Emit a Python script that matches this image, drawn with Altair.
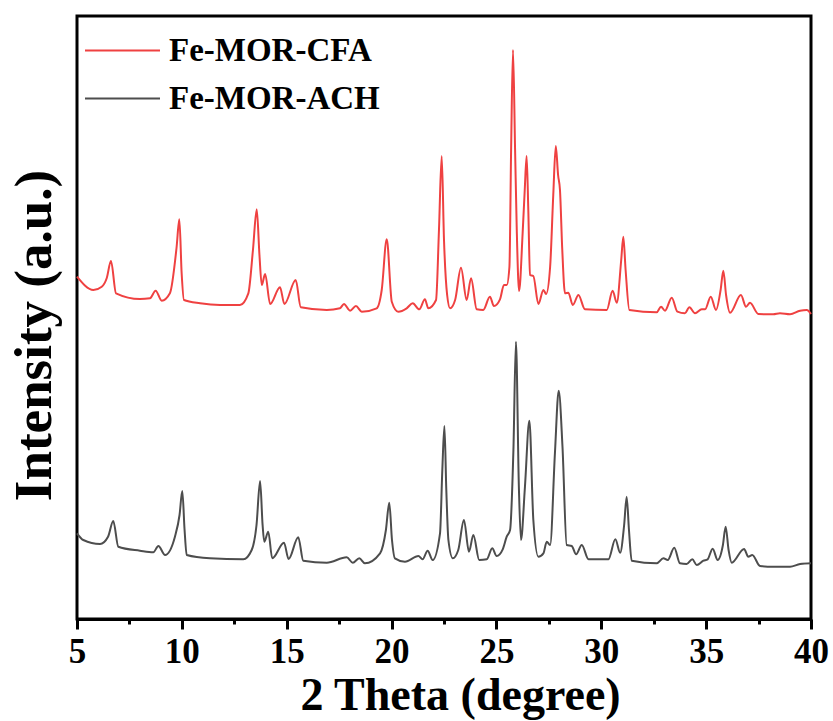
import altair as alt
import pandas as pd

# XRD patterns: 2-theta (degree) and intensity (a.u., offset for stacking)
cfa_2theta = [
    5.00, 5.78, 6.18, 6.42, 6.62, 6.86, 8.00, 8.48, 8.75, 9.04, 9.43, 9.75, 9.88, 9.99,
    10.10, 10.87, 11.82, 12.77, 13.17, 13.39, 13.57, 13.70, 13.81, 13.97, 14.21, 14.68,
    14.89, 15.43, 15.67, 16.91, 17.54, 17.73, 18.02, 18.30, 18.58, 19.29, 19.53, 19.77,
    20.01, 20.32, 20.72, 21.01, 21.32, 21.59, 21.75, 22.12, 22.26, 22.39, 22.50, 22.65,
    22.79, 23.03, 23.31, 23.58, 23.79, 24.06, 24.37, 24.69, 24.88, 25.17, 25.36, 25.49,
    25.62, 25.70, 25.79, 25.89, 25.97, 26.08, 26.25, 26.35, 26.44, 26.52, 26.60, 26.76,
    27.00, 27.24, 27.37, 27.56, 27.71, 27.83, 27.94, 28.03, 28.14, 28.27, 28.43, 28.64,
    28.91, 29.22, 30.26, 30.54, 30.74, 30.95, 31.05, 31.16, 31.34, 32.64, 32.85, 33.04,
    33.36, 33.63, 33.99, 34.20, 34.47, 34.79, 34.95, 35.22, 35.47, 35.69, 35.82, 35.95,
    36.14, 36.66, 36.90, 37.09, 37.49, 38.20, 38.52, 39.00, 39.48, 39.80, 40.00,
]
cfa_intensity = [
    342.3, 329.0, 332.3, 341.0, 358.0, 325.7, 320.0, 320.7, 328.3, 318.3, 325.7, 372.0, 399.7, 345.7,
    319.0, 315.7, 314.0, 314.0, 325.7, 369.0, 409.7, 364.0, 334.0, 345.0, 315.0, 331.7,
    315.0, 339.0, 311.7, 309.0, 310.7, 315.0, 308.3, 313.0, 307.3, 310.7, 329.0, 379.7,
    317.3, 307.3, 310.7, 315.7, 309.7, 319.7, 310.7, 319.0, 389.0, 463.0, 379.0, 324.0,
    310.7, 319.0, 351.3, 319.0, 340.7, 309.7, 309.0, 322.3, 313.0, 319.7, 334.0, 334.0,
    352.3, 469.0, 569.0, 469.0, 389.0, 328.0, 386.0, 429.0, 463.0, 409.0, 344.0, 343.0,
    315.0, 329.0, 325.0, 352.0, 424.0, 473.0, 444.0, 429.0, 369.0, 325.7, 326.3, 314.0,
    324.0, 309.7, 309.0, 328.3, 316.3, 359.0, 382.3, 349.0, 309.0, 306.7, 312.3, 308.3,
    321.3, 307.3, 305.7, 311.7, 305.7, 309.7, 309.7, 322.3, 309.0, 329.0, 348.3, 324.0,
    306.3, 324.0, 312.3, 316.3, 305.0, 304.7, 305.7, 304.7, 308.3, 309.0, 305.0,
]

ach_2theta = [
    5.00, 5.30, 6.10, 6.48, 6.73, 6.97, 8.00, 8.64, 8.88, 9.20, 9.67, 9.89, 10.02, 10.13,
    10.23, 11.34, 12.93, 13.33, 13.56, 13.73, 13.85, 13.93, 14.12, 14.31, 14.87, 15.09,
    15.55, 15.79, 16.91, 17.86, 18.15, 18.46, 18.73, 19.45, 19.73, 19.89, 20.02, 20.16,
    20.64, 21.28, 21.48, 21.72, 21.96, 22.31, 22.42, 22.52, 22.61, 22.71, 22.92, 23.18,
    23.45, 23.69, 23.90, 24.18, 24.54, 24.80, 25.01, 25.30, 25.49, 25.65, 25.81, 25.93,
    26.07, 26.17, 26.36, 26.57, 26.76, 27.00, 27.24, 27.40, 27.56, 27.79, 27.97, 28.15,
    28.35, 28.59, 28.80, 29.07, 29.39, 30.34, 30.67, 30.90, 31.09, 31.21, 31.32, 31.45,
    32.64, 32.96, 33.17, 33.48, 33.75, 34.07, 34.34, 34.55, 34.87, 35.07, 35.31, 35.55,
    35.80, 35.93, 36.07, 36.22, 36.81, 37.01, 37.20, 37.57, 38.20, 39.00, 39.48, 40.00,
]
ach_intensity = [
    85.7, 79.0, 75.0, 82.3, 98.0, 72.3, 68.3, 66.7, 73.0, 64.0, 82.3, 104.0, 128.0, 89.0,
    64.0, 60.7, 59.7, 69.0, 94.0, 138.0, 94.0, 77.3, 87.3, 60.7, 76.3, 60.0,
    81.7, 58.3, 56.3, 61.7, 56.3, 60.7, 55.7, 65.7, 89.0, 116.3, 79.0, 60.7,
    57.3, 63.0, 59.7, 68.3, 59.0, 85.7, 149.0, 193.0, 129.0, 79.0, 60.7, 69.0,
    99.0, 67.3, 84.0, 59.0, 59.7, 70.7, 63.0, 69.7, 82.3, 89.0, 169.0, 277.3,
    132.3, 79.0, 132.3, 198.3, 99.0, 62.3, 65.7, 77.3, 74.0, 166.0, 228.3, 172.3,
    74.0, 73.0, 64.7, 74.0, 59.7, 59.7, 79.7, 66.3, 94.0, 122.3, 89.0, 58.3,
    55.7, 60.7, 59.0, 71.3, 55.7, 55.0, 59.7, 54.0, 58.3, 59.7, 70.3, 59.0,
    74.0, 92.3, 69.0, 56.3, 70.0, 62.3, 64.0, 53.0, 52.3, 52.3, 55.0, 55.7,
]

samples = ["Fe-MOR-CFA", "Fe-MOR-ACH"]
colors = ["#ef4141", "#4d4d4d"]
x_ticks = [5, 7.5, 10, 12.5, 15, 17.5, 20, 22.5, 25, 27.5, 30, 32.5, 35, 37.5, 40]

df = pd.concat([
    pd.DataFrame({"two_theta": cfa_2theta, "intensity": cfa_intensity, "sample": samples[0]}),
    pd.DataFrame({"two_theta": ach_2theta, "intensity": ach_intensity, "sample": samples[1]}),
])

FONT = "Liberation Serif"

chart = alt.Chart(df).mark_line(strokeWidth=2, interpolate="monotone").encode(
    x=alt.X(
        "two_theta:Q",
        scale=alt.Scale(domain=[5, 40], nice=False, zero=False),
        axis=alt.Axis(
            values=x_ticks,
            labelExpr="datum.value % 5 === 0 ? datum.label : ''",
            tickSize={"condition": {"test": "datum.value % 5 === 0", "value": 10}, "value": 5},
            tickWidth=3,
            tickColor="black",
            domainWidth=3,
            domainColor="black",
            grid=False,
            labelFont=FONT,
            labelFontSize=35,
            labelFontWeight="bold",
            labelColor="black",
            labelBaseline="alphabetic",
            labelPadding=33,
            labelFlush=False,
            title="2 Theta (degree)",
            titleFont=FONT,
            titleFontSize=46,
            titleFontWeight="bold",
            titleColor="black",
            titleBaseline="alphabetic",
            titleAlign="center",
            titleX=383,
            titleY=90,
        ),
    ),
    y=alt.Y(
        "intensity:Q",
        scale=alt.Scale(domain=[0, 603], nice=False, zero=False),
        axis=alt.Axis(
            ticks=False,
            labels=False,
            domain=False,
            grid=False,
            title="Intensity (a.u.)",
            titleFont=FONT,
            titleFontSize=53,
            titleFontWeight="bold",
            titleColor="black",
            titleAngle=270,
            titleBaseline="alphabetic",
            titleAlign="center",
            titleX=-27,
            titleY=319,
        ),
    ),
    color=alt.Color(
        "sample:N",
        sort=samples,
        scale=alt.Scale(domain=samples, range=colors),
        legend=alt.Legend(
            title=None,
            orient="none",
            legendX=29,
            legendY=18,
            padding=0,
            symbolType="M-3,0H3",
            symbolSize=625,
            symbolStrokeWidth=2,
            labelFont=FONT,
            labelFontSize=33,
            labelFontWeight="bold",
            labelColor="black",
            labelOffset=30,
            labelLimit=0,
            rowPadding=14,
        ),
    ),
    order=alt.Order("two_theta:Q"),
).properties(
    width=734,
    height=603,
    autosize=alt.AutoSizeParams(type="none"),
    padding={"left": 77, "top": 16, "right": 22, "bottom": 102},
).configure_view(
    stroke="black",
    strokeWidth=3,
)

chart.save("out.html", embed_options={"renderer": "svg", "actions": False})
